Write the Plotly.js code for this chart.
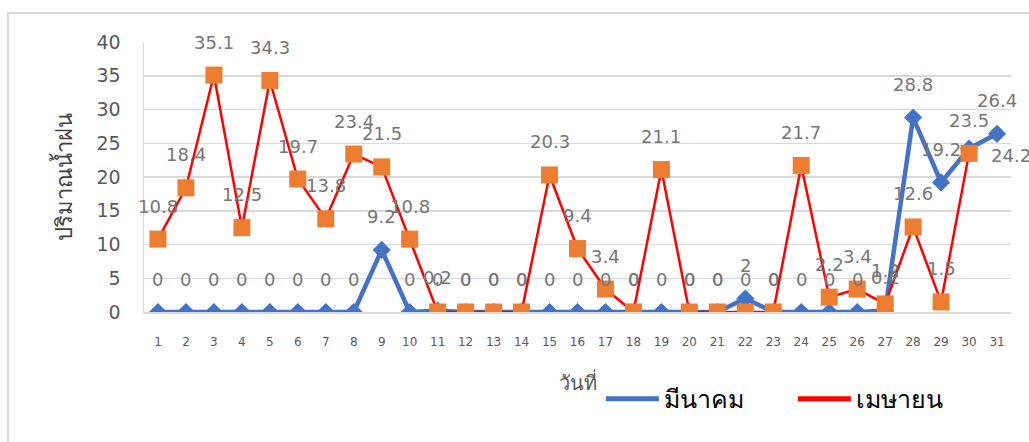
<!DOCTYPE html>
<html>
<head>
<meta charset="utf-8">
<script src="https://cdn.plot.ly/plotly-3.0.1.min.js"></script>
<style>
  html, body { margin: 0; padding: 0; background: #fff; }
  #wrap { position: relative; width: 1029px; height: 442px; overflow: hidden; }
  #chart { position: absolute; left: 0; top: 0; width: 1029px; height: 442px; }
  #frame { position: absolute; left: 7px; top: 12px; width: 1100px; height: 600px;
           border-left: 2px solid #d9d9d9; border-top: 2px solid #d9d9d9; pointer-events: none; }
</style>
</head>
<body>
<div id="wrap">
  <div id="chart"></div>
  <div id="frame"></div>
</div>
<script>
// ---- data ----
const days = [1,2,3,4,5,6,7,8,9,10,11,12,13,14,15,16,17,18,19,20,21,22,23,24,25,26,27,28,29,30,31];
const marchName = 'มีนาคม';
const aprilName = 'เมษายน';
const march = [0,0,0,0,0,0,0,0,9.2,0,0.2,0,0,0,0,0,0,0,0,0,0,2,0,0,0,0,0.2,28.8,19.2,24.2,26.4];
const april = [10.8,18.4,35.1,12.5,34.3,19.7,13.8,23.4,21.5,10.8,0,0,0,0,20.3,9.4,3.4,0,21.1,0,0,0,0,21.7,2.2,3.4,1.2,12.6,1.5,23.5,null];
const yTitle = 'ปริมาณน้ำฝน';
const xTitle = 'วันที่';

// ---- styles ----
const BLUE = '#4472C4', RED = '#FF0000', ORANGE = '#ED7D31';
const GRID = '#d9d9d9', TICK = '#595959', LABEL = '#767676';
const FONT = 'DejaVu Sans, Noto Sans, sans-serif';

const traces = [
  { x: days, y: march, type: 'scatter', mode: 'lines+markers', showlegend: false,
    line: { color: BLUE, width: 4.5 },
    marker: { symbol: 'diamond', size: 14, color: BLUE }, hoverinfo: 'skip' },
  { x: days, y: april, type: 'scatter', mode: 'lines+markers', showlegend: false,
    line: { color: RED, width: 2.5 },
    marker: { symbol: 'square', size: 17, color: ORANGE }, hoverinfo: 'skip' },
  // legend-only entries (line samples only)
  { x: [null], y: [null], type: 'scatter', mode: 'lines', name: marchName,
    line: { color: BLUE, width: 5 } },
  { x: [null], y: [null], type: 'scatter', mode: 'lines', name: aprilName,
    line: { color: RED, width: 5 } }
];

// data labels
const labelFont = { family: FONT, size: 18, color: LABEL };
const annotations = [];
function addLabels(vals, key) {
  vals.forEach((v, i) => {
    if (v === null) return;
    let xs = 0, ys = 33;
    if (key === 'march' && days[i] === 30) { xs = 42; ys = -7; }
    annotations.push({ x: days[i], y: v, xref: 'x', yref: 'y', text: String(v),
      showarrow: false, xshift: xs, yshift: ys, font: labelFont });
  });
}
addLabels(march, 'march');
addLabels(april, 'april');

const layout = {
  width: 1029, height: 442,
  margin: { l: 144, r: 18, t: 42, b: 130 },
  paper_bgcolor: '#ffffff', plot_bgcolor: '#ffffff',
  showlegend: true,
  legend: { orientation: 'h', x: 0.527, xanchor: 'left', y: -0.322, yanchor: 'middle',
            font: { family: FONT, size: 25, color: '#000000' },
            itemwidth: 53, entrywidth: 124, entrywidthmode: 'pixels', bgcolor: 'rgba(0,0,0,0)' },
  xaxis: {
    range: [0.5, 31.5], tickmode: 'array', tickvals: days, ticktext: days.map(String),
    showgrid: false, zeroline: false, showline: true, linecolor: GRID, linewidth: 1.5,
    ticks: 'outside', ticklen: 18, tickcolor: 'rgba(0,0,0,0)',
    tickfont: { family: FONT, size: 12, color: TICK },
    title: { text: xTitle, font: { family: FONT, size: 20, color: TICK }, standoff: 28 },
    automargin: false
  },
  yaxis: {
    range: [0, 40], dtick: 5, tick0: 0,
    showgrid: true, gridcolor: GRID, gridwidth: 1.5, zeroline: false,
    showline: true, linecolor: GRID, linewidth: 1.5,
    ticks: 'outside', ticklen: 18, tickcolor: 'rgba(0,0,0,0)',
    tickfont: { family: FONT, size: 19, color: TICK },
    title: { text: yTitle, font: { family: FONT, size: 22, color: '#404040' }, standoff: 18 },
    automargin: false
  },
  annotations: annotations
};

Plotly.newPlot('chart', traces, layout, { staticPlot: true, displayModeBar: false });
</script>
</body>
</html>
